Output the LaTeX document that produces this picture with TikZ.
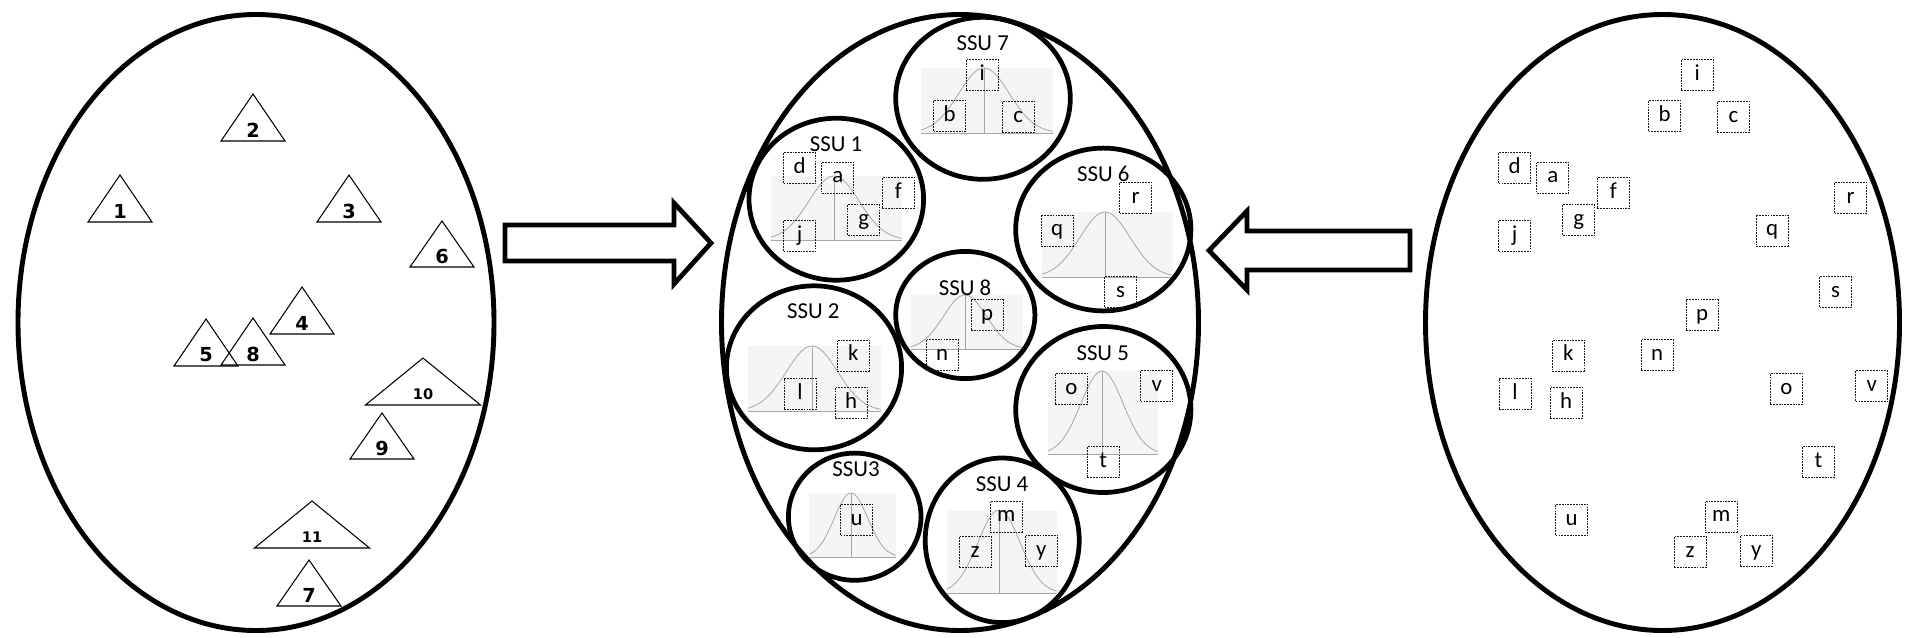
\documentclass[tikz,border=0pt]{standalone}
\usepackage{fontspec}
\setmainfont{Carlito}
\newfontfamily\numfont{DejaVu Sans}
\tikzset{
  bigell/.style={line width=2.8pt},
  ssu/.style={line width=2.7pt},
  tri/.style={line width=0.6pt},
  blockarrow/.style={line width=2.7pt, line join=miter},
  lbox/.style={draw=black!90, dash pattern=on 1pt off 0.6pt, line width=0.55pt,
    minimum width=0.64cm, minimum height=0.62cm, inner sep=0pt,
    text height=0.7em, text depth=0.08em, font=\fontsize{13}{15}\selectfont},
  ssulbl/.style={font=\fontsize{13}{15}\selectfont, inner sep=0pt},
  numlbl/.style={font=\numfont\bfseries\fontsize{11}{13}\selectfont, inner sep=0pt},
  smallnum/.style={font=\numfont\bfseries\fontsize{8.3}{10}\selectfont, inner sep=0pt},
  chartbg/.style={fill=black!4},
  curve/.style={draw=black!35, line width=0.45pt}
}
\newcommand\trimark[6]{%
  \draw[tri] (#2,#3) -- (#2+#5,#4) -- (#2-#5,#4) -- cycle;
  \node[#6] (tri#1) at (#2,#4-11) {#1};
}
\newcommand\gchart[5]{%
  \fill[chartbg] (#1,#2) rectangle (#3,#4);
  \draw[curve] (#1,#4) -- (#3,#4);
  \draw[curve] (#5,#2) -- (#5,#4);
  \draw[curve, domain=#1:#3, samples=70, variable=\t]
    plot (\t, {#4 - (#4-#2)*exp(-0.5*((\t-#5)/((#3-#1)/5.2))^2)});
}
\begin{document}
\begin{tikzpicture}[x=0.02cm, y=-0.02cm]
\useasboundingbox (0,0) rectangle (1905,637);

% three big ellipses
\draw[bigell] (256,322.5) ellipse [x radius=238, y radius=308];
\draw[bigell] (960,322.5) ellipse [x radius=238.5, y radius=308];
\draw[bigell] (1662.5,322.5) ellipse [x radius=237, y radius=308];

% triangles (left population)
\trimark{1}{120}{175}{222}{32}{numlbl}
\trimark{2}{253}{94}{141}{32}{numlbl}
\trimark{3}{349}{175}{222}{32}{numlbl}
\trimark{6}{442}{221}{267}{32}{numlbl}
\trimark{4}{302}{287}{334}{32}{numlbl}
\trimark{5}{206}{319}{366}{32}{numlbl}
\trimark{8}{253}{318}{365}{32}{numlbl}
\trimark{10}{423}{358}{405}{57.5}{smallnum}
\trimark{9}{382}{413}{459}{32}{numlbl}
\trimark{11}{312}{501}{548}{57.5}{smallnum}
\trimark{7}{309}{560}{606}{32}{numlbl}

% block arrows
\draw[blockarrow] (505,225) -- (674,225) -- (674,203) -- (711,243) -- (674,284) -- (674,261) -- (505,261) -- cycle;
\draw[blockarrow] (1410,231) -- (1247,231) -- (1247,211) -- (1209,250.5) -- (1247,290) -- (1247,270) -- (1410,270) -- cycle;

% charts inside SSUs
\gchart{921}{68}{1053}{133}{984}
\gchart{771}{176}{902}{240}{834}
\gchart{1042}{212}{1173}{277}{1105}
\gchart{911}{295}{1023}{349}{965}
\gchart{748}{346}{881}{411}{812}
\gchart{1048}{371}{1158}{454}{1102}
\gchart{809}{493}{896}{557}{851}
\gchart{947}{510}{1057}{593}{999}

% SSU circles
\draw[ssu] (983,98.3) ellipse [x radius=87.3, y radius=81];
\draw[ssu] (836.3,199.2) ellipse [x radius=87.3, y radius=81];
\draw[ssu] (1103.3,229.5) ellipse [x radius=87.6, y radius=81.4];
\draw[ssu] (965.3,315) ellipse [x radius=69.6, y radius=63.6];
\draw[ssu] (814,367.8) ellipse [x radius=87.6, y radius=82];
\draw[ssu] (1103.3,409.5) ellipse [x radius=87.6, y radius=83];
\draw[ssu] (854.7,516.7) ellipse [x radius=66.3, y radius=63.6];
\draw[ssu] (1002.2,540.3) ellipse [x radius=77, y radius=82.3];

% SSU labels
\node[ssulbl] (lab7) at (982.7,43.3) {SSU 7};
\node[ssulbl] (lab1) at (836,144) {SSU 1};
\node[ssulbl] (lab6) at (1103.3,174) {SSU 6};
\node[ssulbl] (lab8) at (965,287.3) {SSU 8};
\node[ssulbl] (lab2) at (813.3,311) {SSU 2};
\node[ssulbl] (lab5) at (1102.7,352.7) {SSU 5};
\node[ssulbl] (lab3) at (856,469.3) {SSU3};
\node[ssulbl] (lab4) at (1002,484.3) {SSU 4};

% letter boxes: in the SSUs and in the right population
\foreach \l/\px/\py in {i/982.2/75, b/949.5/115.8, c/1018.3/116.8, d/799.7/168.2,
  a/837.8/177.5, f/898.3/192.8, g/863.8/220, j/799.7/235.7, r/1135.5/197.8,
  q/1057/230.5, s/1120.5/292.2, p/987/315.2, n/942.2/355.2, k/853.3/355.5,
  l/800/393.8, h/851.2/402.8, o/1071.3/388.8, v/1156.7/386.2, t/1103.3/462.2,
  u/856.7/519.8, m/1006.3/516.5, z/975.2/552.3, y/1041.2/550.7} {
  \node[lbox] (m-\l) at (\px,\py) {\l};
  \node[lbox] (r-\l) at (\px+715,\py) {\l};
}
\end{tikzpicture}
\end{document}
